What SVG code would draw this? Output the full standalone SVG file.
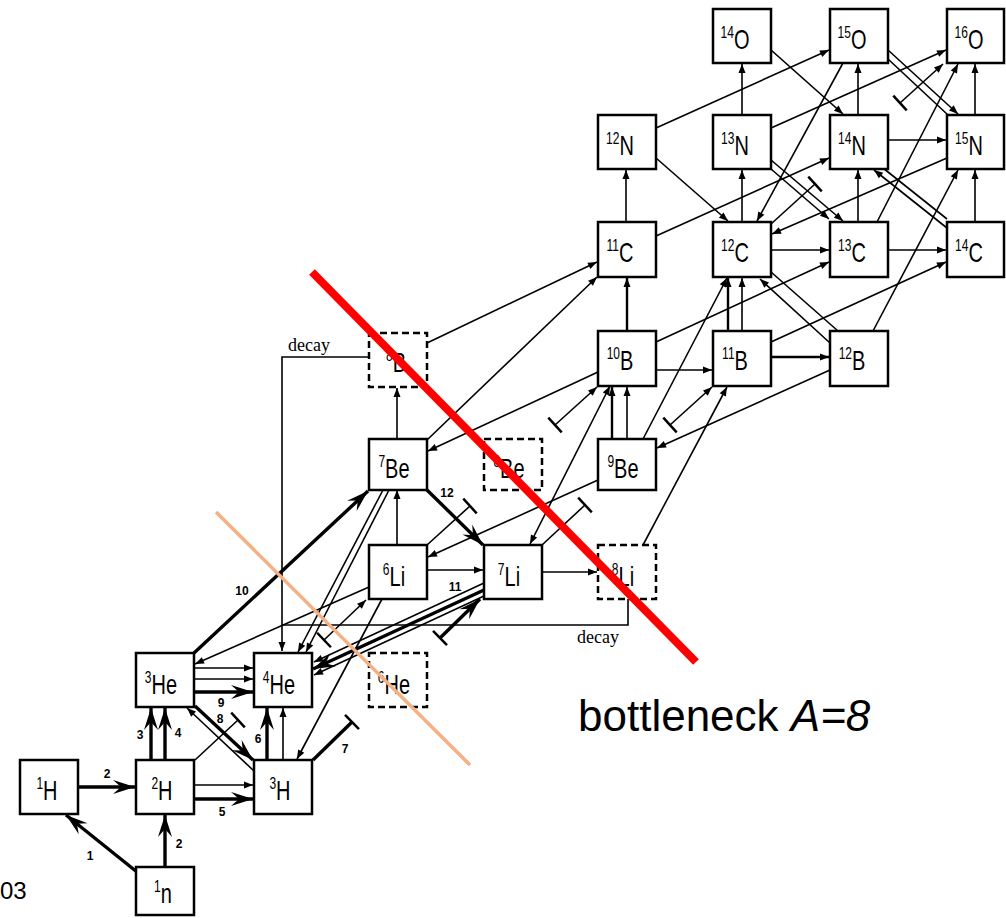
<svg xmlns="http://www.w3.org/2000/svg" width="1006" height="918" viewBox="0 0 1006 918">
<style>
.bx{fill:#fff;stroke:#000;stroke-width:2.5}
.dbx{fill:#fff;stroke:#000;stroke-width:2.5;stroke-dasharray:7 4}
.tk{stroke:#000;stroke-width:3.4;fill:none}
.md{stroke:#000;stroke-width:2.4;fill:none}
.tn{stroke:#000;stroke-width:1.6;fill:none}
.lbl{font-family:"Liberation Sans",Arial,sans-serif;text-anchor:middle;fill:#000}
.s{font-size:12px}
.e{font-size:20px}
.num{font-family:"Liberation Sans",Arial,sans-serif;font-size:12px;font-weight:bold;text-anchor:middle}
.dec{font-family:"Liberation Serif","Times New Roman",serif;font-size:18px}
</style>
<defs>
<marker id="a" viewBox="-10 -5 11 10" refX="0" refY="0" markerWidth="11" markerHeight="10" orient="auto" markerUnits="userSpaceOnUse"><path d="M0,0 L-9,-3.5 L-9,3.5 Z"/></marker>
<marker id="as" viewBox="-10 -5 11 10" refX="0" refY="0" markerWidth="11" markerHeight="10" orient="auto-start-reverse" markerUnits="userSpaceOnUse"><path d="M0,0 L-9,-3.5 L-9,3.5 Z"/></marker>
<marker id="A" viewBox="-24 -8 25 16" refX="0" refY="0" markerWidth="25" markerHeight="16" orient="auto" markerUnits="userSpaceOnUse"><path d="M0,0 L-22,-7 L-14,0 L-22,7 Z"/></marker>
<marker id="T" viewBox="-2 -11 4 22" refX="0" refY="0" markerWidth="4" markerHeight="22" orient="auto" markerUnits="userSpaceOnUse"><path d="M0,-10 L0,10" stroke="#000" stroke-width="2.5"/></marker>
</defs>
<rect width="1006" height="918" fill="#fff"/>
<g id="connectors">
<line class="tk" x1="137" y1="872" x2="66" y2="815" marker-end="url(#A)"/>
<line class="tk" x1="165" y1="867" x2="165" y2="815" marker-end="url(#A)"/>
<line class="tk" x1="79" y1="787" x2="135" y2="787" marker-end="url(#A)"/>
<line class="tk" x1="195" y1="799" x2="253" y2="799" marker-end="url(#A)"/>
<line class="tk" x1="151" y1="760" x2="151" y2="708" marker-end="url(#A)"/>
<line class="tk" x1="165" y1="760" x2="165" y2="708" marker-end="url(#A)"/>
<line class="tk" x1="195" y1="706" x2="253" y2="760" marker-end="url(#A)"/>
<line class="tk" x1="195" y1="692" x2="253" y2="692" marker-end="url(#A)"/>
<line class="tk" x1="267" y1="760" x2="267" y2="708" marker-end="url(#A)"/>
<line class="tk" x1="194" y1="653" x2="368" y2="491" marker-end="url(#A)"/>
<line class="tk" x1="484" y1="590" x2="313" y2="669" marker-end="url(#A)"/>
<line class="tk" x1="427" y1="490" x2="483" y2="545" marker-end="url(#A)"/>
<line class="tk" x1="313" y1="760" x2="352" y2="722" marker-end="url(#T)"/>
<line class="tk" x1="440" y1="638" x2="480" y2="599" marker-start="url(#T)" marker-end="url(#A)"/>
<line class="tn" x1="195" y1="785" x2="253" y2="785" marker-end="url(#a)"/>
<line class="tn" x1="254" y1="771" x2="187" y2="708" marker-end="url(#a)"/>
<line class="tn" x1="283" y1="760" x2="283" y2="708" marker-end="url(#a)"/>
<line class="tn" x1="195" y1="668" x2="253" y2="668" marker-end="url(#a)"/>
<line class="tn" x1="195" y1="679" x2="253" y2="679" marker-end="url(#a)"/>
<line class="tn" x1="369" y1="587" x2="195" y2="664" marker-end="url(#a)"/>
<line class="tn" x1="382" y1="599" x2="297" y2="759" marker-end="url(#a)"/>
<line class="tn" x1="195" y1="760" x2="238" y2="720" marker-end="url(#T)"/>
<line class="tn" x1="324" y1="640" x2="366" y2="600" marker-start="url(#T)" marker-end="url(#a)"/>
<line class="tn" x1="383" y1="490" x2="298" y2="652" marker-end="url(#a)"/>
<line class="tn" x1="389" y1="490" x2="306" y2="652" marker-end="url(#a)"/>
<line class="tn" x1="484" y1="583" x2="314" y2="662" marker-end="url(#a)"/>
<line class="tn" x1="484" y1="596" x2="314" y2="675" marker-end="url(#a)"/>
<line class="tn" x1="397" y1="545" x2="397" y2="490" marker-end="url(#a)"/>
<line class="tn" x1="427" y1="570" x2="483" y2="570" marker-end="url(#a)"/>
<line class="tn" x1="542" y1="572" x2="597" y2="572" marker-end="url(#a)"/>
<line class="tn" x1="397" y1="439" x2="397" y2="388" marker-end="url(#a)"/>
<polyline class="tn" points="369,357 282,357 282,651" marker-end="url(#a)"/>
<polyline class="tn" points="628,599 628,625 282,625"/>
<line class="tn" x1="427" y1="343" x2="597" y2="262" marker-end="url(#a)"/>
<line class="tn" x1="427" y1="440" x2="597" y2="277" marker-end="url(#a)"/>
<line class="tn" x1="598" y1="372" x2="428" y2="451" marker-end="url(#a)"/>
<line class="tn" x1="427" y1="545" x2="470" y2="506" marker-end="url(#T)"/>
<line class="tn" x1="555" y1="425" x2="597" y2="387" marker-start="url(#T)" marker-end="url(#a)"/>
<line class="tn" x1="542" y1="545" x2="585" y2="505" marker-end="url(#T)"/>
<line class="tn" x1="670" y1="425" x2="712" y2="387" marker-start="url(#T)" marker-end="url(#a)"/>
<line class="tn" x1="598" y1="480" x2="428" y2="557" marker-end="url(#a)"/>
<line class="tn" x1="610" y1="386" x2="530" y2="544" marker-start="url(#as)" marker-end="url(#a)"/>
<line class="tn" x1="643" y1="545" x2="727" y2="387" marker-end="url(#a)"/>
<line class="tn" x1="830" y1="370" x2="657" y2="448" marker-end="url(#a)"/>
<line class="md" x1="612" y1="439" x2="612" y2="387" marker-end="url(#a)"/>
<line class="tn" x1="627" y1="439" x2="627" y2="387" marker-end="url(#a)"/>
<line class="tn" x1="643" y1="439" x2="727" y2="278" marker-end="url(#a)"/>
<line class="md" x1="627" y1="331" x2="627" y2="278" marker-end="url(#a)"/>
<line class="tn" x1="656" y1="370" x2="712" y2="370" marker-end="url(#a)"/>
<line class="md" x1="771" y1="357" x2="829" y2="357" marker-end="url(#a)"/>
<line class="tn" x1="656" y1="342" x2="829" y2="262" marker-end="url(#a)"/>
<line class="tn" x1="771" y1="342" x2="946" y2="262" marker-end="url(#a)"/>
<line class="md" x1="728" y1="331" x2="728" y2="278" marker-end="url(#a)"/>
<line class="tn" x1="742" y1="331" x2="742" y2="278" marker-end="url(#a)"/>
<line class="tn" x1="830" y1="343" x2="760" y2="279" marker-end="url(#a)"/>
<line class="tn" x1="838" y1="331" x2="771" y2="272"/>
<line class="tn" x1="873" y1="331" x2="958" y2="170" marker-end="url(#a)"/>
<line class="tn" x1="626" y1="222" x2="626" y2="170" marker-end="url(#a)"/>
<line class="tn" x1="656" y1="236" x2="829" y2="158" marker-end="url(#a)"/>
<line class="tn" x1="742" y1="222" x2="742" y2="170" marker-end="url(#a)"/>
<line class="tn" x1="771" y1="250" x2="829" y2="250" marker-end="url(#a)"/>
<line class="tn" x1="888" y1="250" x2="946" y2="250" marker-end="url(#a)"/>
<line class="tn" x1="858" y1="222" x2="858" y2="170" marker-end="url(#a)"/>
<line class="tn" x1="975" y1="222" x2="975" y2="170" marker-end="url(#a)"/>
<line class="tn" x1="877" y1="222" x2="958" y2="64" marker-end="url(#a)"/>
<line class="tn" x1="771" y1="224" x2="815" y2="184" marker-end="url(#T)"/>
<line class="tn" x1="900" y1="103" x2="943" y2="64" marker-start="url(#T)" marker-end="url(#a)"/>
<line class="tn" x1="947" y1="228" x2="874" y2="170" marker-end="url(#a)"/>
<line class="tn" x1="947" y1="219" x2="883" y2="168"/>
<line class="tn" x1="656" y1="158" x2="728" y2="221" marker-end="url(#a)"/>
<line class="tn" x1="656" y1="128" x2="829" y2="50" marker-end="url(#a)"/>
<line class="tn" x1="742" y1="115" x2="742" y2="64" marker-end="url(#a)"/>
<line class="tn" x1="771" y1="128" x2="946" y2="50" marker-end="url(#a)"/>
<line class="tn" x1="771" y1="160" x2="843" y2="221" marker-end="url(#a)"/>
<line class="tn" x1="771" y1="169" x2="829" y2="219" marker-end="url(#a)"/>
<line class="tn" x1="858" y1="115" x2="858" y2="64" marker-end="url(#a)"/>
<line class="tn" x1="888" y1="140" x2="946" y2="140" marker-end="url(#a)"/>
<line class="tn" x1="975" y1="115" x2="975" y2="64" marker-end="url(#a)"/>
<line class="tn" x1="947" y1="158" x2="772" y2="234" marker-end="url(#a)"/>
<line class="tn" x1="771" y1="50" x2="843" y2="114" marker-end="url(#a)"/>
<line class="tn" x1="843" y1="63" x2="757" y2="221" marker-end="url(#a)"/>
<line class="tn" x1="888" y1="50" x2="958" y2="114" marker-end="url(#a)"/>
<line class="tn" x1="888" y1="59" x2="948" y2="115"/>
</g>
<g id="reaction-numbers">
<text class="num" x="90" y="860">1</text>
<text class="num" x="179" y="848">2</text>
<text class="num" x="107" y="778">2</text>
<text class="num" x="222" y="816">5</text>
<text class="num" x="140" y="739">3</text>
<text class="num" x="178" y="737">4</text>
<text class="num" x="258" y="743">6</text>
<text class="num" x="220" y="723">8</text>
<text class="num" x="221" y="707">9</text>
<text class="num" x="345" y="753">7</text>
<text class="num" x="242" y="595">10</text>
<text class="num" x="455" y="591">11</text>
<text class="num" x="447" y="497">12</text>
</g>
<g id="decay-labels">
<text class="dec" x="288" y="351">decay</text>
<text class="dec" x="577" y="643">decay</text>
</g>
<g id="n-H1"><rect class="bx" x="20" y="760" width="58" height="54"/><text class="lbl" transform="translate(47,800) scale(1,1.35)"><tspan class="s" dy="-8">1</tspan><tspan class="e" dy="8">H</tspan></text></g>
<g id="n-H2"><rect class="bx" x="136" y="760" width="58" height="54"/><text class="lbl" transform="translate(162,800) scale(1,1.35)"><tspan class="s" dy="-8">2</tspan><tspan class="e" dy="8">H</tspan></text></g>
<g id="n-H3"><rect class="bx" x="254" y="760" width="58" height="54"/><text class="lbl" transform="translate(280,800) scale(1,1.35)"><tspan class="s" dy="-8">3</tspan><tspan class="e" dy="8">H</tspan></text></g>
<g id="n-n1"><rect class="bx" x="136" y="867" width="58" height="48"/><text class="lbl" transform="translate(163,903) scale(1,1.35)"><tspan class="s" dy="-8">1</tspan><tspan class="e" dy="8">n</tspan></text></g>
<g id="n-He3"><rect class="bx" x="136" y="653" width="58" height="54"/><text class="lbl" transform="translate(161,694) scale(1,1.35)"><tspan class="s" dy="-8">3</tspan><tspan class="e" dy="8">He</tspan></text></g>
<g id="n-He4"><rect class="bx" x="254" y="653" width="58" height="54"/><text class="lbl" transform="translate(279,694) scale(1,1.35)"><tspan class="s" dy="-8">4</tspan><tspan class="e" dy="8">He</tspan></text></g>
<g id="n-He6"><rect class="dbx" x="369" y="653" width="58" height="54"/><text class="lbl" transform="translate(394,694) scale(1,1.35)"><tspan class="s" dy="-8">6</tspan><tspan class="e" dy="8">He</tspan></text></g>
<g id="n-Li6"><rect class="bx" x="369" y="545" width="58" height="54"/><text class="lbl" transform="translate(394,586) scale(1,1.35)"><tspan class="s" dy="-8">6</tspan><tspan class="e" dy="8">Li</tspan></text></g>
<g id="n-Li7"><rect class="bx" x="484" y="545" width="58" height="54"/><text class="lbl" transform="translate(509,586) scale(1,1.35)"><tspan class="s" dy="-8">7</tspan><tspan class="e" dy="8">Li</tspan></text></g>
<g id="n-Li8"><rect class="dbx" x="598" y="545" width="58" height="54"/><text class="lbl" transform="translate(623,586) scale(1,1.35)"><tspan class="s" dy="-8">8</tspan><tspan class="e" dy="8">Li</tspan></text></g>
<g id="n-Be7"><rect class="bx" x="369" y="439" width="58" height="51"/><text class="lbl" transform="translate(394,478) scale(1,1.35)"><tspan class="s" dy="-8">7</tspan><tspan class="e" dy="8">Be</tspan></text></g>
<g id="n-Be8"><rect class="dbx" x="484" y="439" width="58" height="51"/><text class="lbl" transform="translate(509,478) scale(1,1.35)"><tspan class="s" dy="-8">8</tspan><tspan class="e" dy="8">Be</tspan></text></g>
<g id="n-Be9"><rect class="bx" x="598" y="439" width="58" height="51"/><text class="lbl" transform="translate(623,478) scale(1,1.35)"><tspan class="s" dy="-8">9</tspan><tspan class="e" dy="8">Be</tspan></text></g>
<g id="n-B8"><rect class="dbx" x="369" y="333" width="58" height="54"/><text class="lbl" transform="translate(396,372) scale(1,1.35)"><tspan class="s" dy="-8">8</tspan><tspan class="e" dy="8">B</tspan></text></g>
<g id="n-B10"><rect class="bx" x="598" y="331" width="58" height="55"/><text class="lbl" transform="translate(620,370) scale(1,1.35)"><tspan class="s" dy="-8">10</tspan><tspan class="e" dy="8">B</tspan></text></g>
<g id="n-B11"><rect class="bx" x="713" y="331" width="58" height="55"/><text class="lbl" transform="translate(735,370) scale(1,1.35)"><tspan class="s" dy="-8">11</tspan><tspan class="e" dy="8">B</tspan></text></g>
<g id="n-B12"><rect class="bx" x="830" y="331" width="58" height="55"/><text class="lbl" transform="translate(852,370) scale(1,1.35)"><tspan class="s" dy="-8">12</tspan><tspan class="e" dy="8">B</tspan></text></g>
<g id="n-C11"><rect class="bx" x="598" y="222" width="58" height="55"/><text class="lbl" transform="translate(620,262) scale(1,1.35)"><tspan class="s" dy="-8">11</tspan><tspan class="e" dy="8">C</tspan></text></g>
<g id="n-C12"><rect class="bx" x="713" y="222" width="58" height="55"/><text class="lbl" transform="translate(735,262) scale(1,1.35)"><tspan class="s" dy="-8">12</tspan><tspan class="e" dy="8">C</tspan></text></g>
<g id="n-C13"><rect class="bx" x="830" y="222" width="58" height="55"/><text class="lbl" transform="translate(852,262) scale(1,1.35)"><tspan class="s" dy="-8">13</tspan><tspan class="e" dy="8">C</tspan></text></g>
<g id="n-C14"><rect class="bx" x="947" y="222" width="57" height="55"/><text class="lbl" transform="translate(969,262) scale(1,1.35)"><tspan class="s" dy="-8">14</tspan><tspan class="e" dy="8">C</tspan></text></g>
<g id="n-N12"><rect class="bx" x="598" y="115" width="58" height="54"/><text class="lbl" transform="translate(620,155) scale(1,1.35)"><tspan class="s" dy="-8">12</tspan><tspan class="e" dy="8">N</tspan></text></g>
<g id="n-N13"><rect class="bx" x="713" y="115" width="58" height="54"/><text class="lbl" transform="translate(735,155) scale(1,1.35)"><tspan class="s" dy="-8">13</tspan><tspan class="e" dy="8">N</tspan></text></g>
<g id="n-N14"><rect class="bx" x="830" y="115" width="58" height="54"/><text class="lbl" transform="translate(852,155) scale(1,1.35)"><tspan class="s" dy="-8">14</tspan><tspan class="e" dy="8">N</tspan></text></g>
<g id="n-N15"><rect class="bx" x="947" y="115" width="57" height="54"/><text class="lbl" transform="translate(969,155) scale(1,1.35)"><tspan class="s" dy="-8">15</tspan><tspan class="e" dy="8">N</tspan></text></g>
<g id="n-O14"><rect class="bx" x="713" y="9" width="58" height="54"/><text class="lbl" transform="translate(735,49) scale(1,1.35)"><tspan class="s" dy="-8">14</tspan><tspan class="e" dy="8">O</tspan></text></g>
<g id="n-O15"><rect class="bx" x="830" y="9" width="58" height="54"/><text class="lbl" transform="translate(852,49) scale(1,1.35)"><tspan class="s" dy="-8">15</tspan><tspan class="e" dy="8">O</tspan></text></g>
<g id="n-O16"><rect class="bx" x="947" y="9" width="57" height="54"/><text class="lbl" transform="translate(969,49) scale(1,1.35)"><tspan class="s" dy="-8">16</tspan><tspan class="e" dy="8">O</tspan></text></g>
<g id="bottleneck-lines">
<line x1="216" y1="512" x2="470" y2="765" stroke="#F4B183" stroke-width="3.5"/>
<line x1="312" y1="272" x2="696" y2="662" stroke="#FF0000" stroke-width="8"/>
</g>
<text x="578" y="731" font-family="'Liberation Sans',Arial,sans-serif" font-size="44">bottleneck <tspan font-style="italic">A=8</tspan></text>
<text x="0" y="899" font-family="'Liberation Sans',Arial,sans-serif" font-size="24">03</text>
</svg>
